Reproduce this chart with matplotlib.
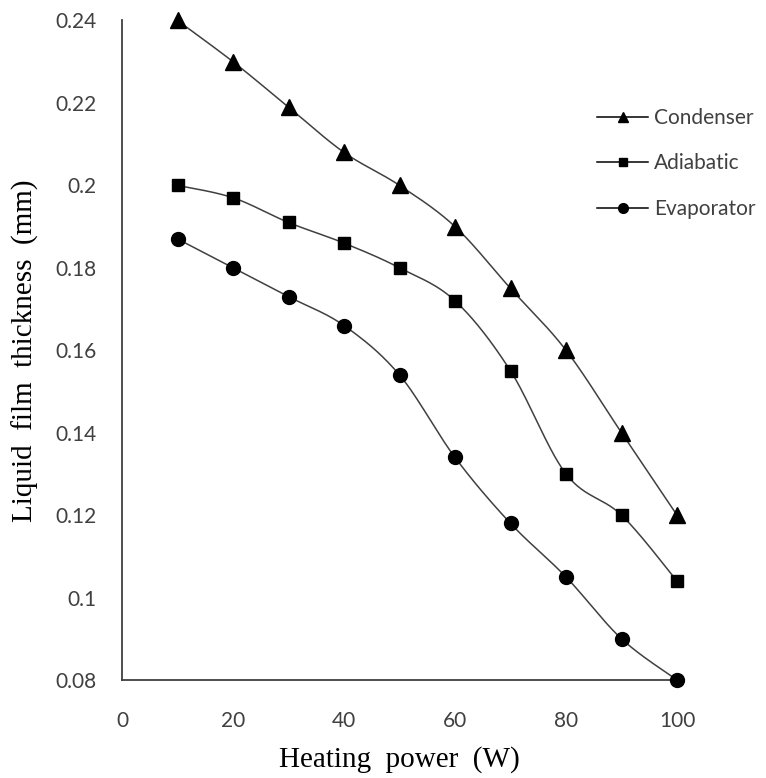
import matplotlib
matplotlib.use("Agg")
import matplotlib.pyplot as plt
import numpy as np

# ── Data ──────────────────────────────────────────────────────────────────────
heating_power = [10, 20, 30, 40, 50, 60, 70, 80, 90, 100]
condenser = [0.240, 0.230, 0.219, 0.208, 0.200, 0.190, 0.175, 0.160, 0.140, 0.120]
adiabatic = [0.200, 0.197, 0.191, 0.186, 0.180, 0.172, 0.155, 0.130, 0.120, 0.104]
evaporator = [0.187, 0.180, 0.173, 0.166, 0.154, 0.134, 0.118, 0.105, 0.090, 0.080]

x_ticks = [0, 20, 40, 60, 80, 100]
y_ticks = [0.08, 0.10, 0.12, 0.14, 0.16, 0.18, 0.20, 0.22, 0.24]
y_tick_labels = ["0.08", "0.1", "0.12", "0.14", "0.16", "0.18", "0.2", "0.22", "0.24"]


def smooth(xs, ys, n=30):
    """Excel-style smoothed line: Catmull-Rom segments through the points."""
    p = np.column_stack([xs, ys]).astype(float)
    p = np.vstack([p[0], p, p[-1]])
    out = []
    t = np.linspace(0, 1, n)[:, None]
    for i in range(1, len(p) - 2):
        p0, p1, p2, p3 = p[i - 1], p[i], p[i + 1], p[i + 2]
        c1 = p1 + (p2 - p0) / 6
        c2 = p2 - (p3 - p1) / 6
        seg = ((1 - t) ** 3) * p1 + 3 * ((1 - t) ** 2) * t * c1 + 3 * (1 - t) * t ** 2 * c2 + t ** 3 * p2
        out.append(seg if i == 1 else seg[1:])
    s = np.vstack(out)
    return s[:, 0], s[:, 1]


fig = plt.figure(figsize=(7.66, 7.78), dpi=100)
ax = fig.add_axes([122 / 766, 1 - 680 / 778, (677 - 122) / 766, (680 - 20.5) / 778])

tick_font = "Lato"
label_font = "Liberation Serif"

series = [
    ("Condenser", condenser, "^", 11),
    ("Adiabatic", adiabatic, "s", 9),
    ("Evaporator", evaporator, "o", 10),
]
for name, vals, mk, ms in series:
    sx, sy = smooth(heating_power, vals)
    ax.plot(sx, sy, color="#404040", linewidth=1.1, zorder=2)
    ax.plot(heating_power, vals, linestyle="none", marker=mk, markersize=ms,
            color="black", zorder=3, clip_on=False)
    # legend proxy
    ax.plot([], [], color="black", linewidth=1.1, marker=mk, markersize=ms * 0.7, label=name)

ax.set_xlim(0, 100)
ax.set_ylim(0.08, 0.24)
ax.set_xticks(x_ticks)
ax.set_yticks(y_ticks)
ax.set_yticklabels(y_tick_labels)
ax.tick_params(length=0, labelsize=15, colors="#404040")
ax.tick_params(axis="x", pad=22)
ax.tick_params(axis="y", pad=18)
for lab in ax.get_xticklabels() + ax.get_yticklabels():
    lab.set_family(tick_font)

for side in ("top", "right"):
    ax.spines[side].set_visible(False)
for side in ("left", "bottom"):
    ax.spines[side].set_color("#404040")
    ax.spines[side].set_linewidth(1.3)

ax.set_xlabel("Heating  power  (W)", family=label_font, fontsize=21, labelpad=11)
ax.set_ylabel("Liquid  film  thickness  (mm)", family=label_font, fontsize=21, labelpad=12)

leg = ax.legend(loc="upper left", bbox_to_anchor=(597 / 766, 1 - 108 / 778),
                bbox_transform=fig.transFigure, frameon=False, borderpad=0,
                borderaxespad=0, handlelength=2.45, handletextpad=0.3,
                labelspacing=1.22, prop={"family": tick_font, "size": 15})
for t in leg.get_texts():
    t.set_color("#404040")

fig.savefig("out.png", dpi=100)
